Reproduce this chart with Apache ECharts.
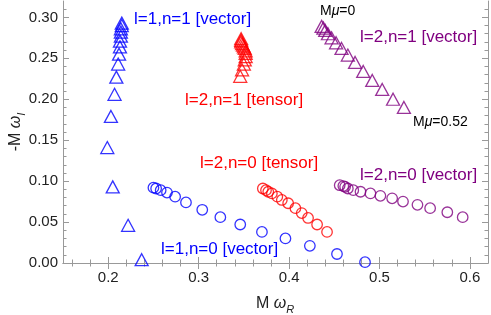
<!DOCTYPE html>
<html><head><meta charset="utf-8">
<script src="https://cdn.jsdelivr.net/npm/echarts@6/dist/echarts.min.js"></script>
<style>html,body{margin:0;padding:0;background:#fff}#c{width:491px;height:315px}</style>
</head><body><div id="c"></div>
<script>
// Axis ticks
const xMajorTicks = [0.2, 0.3, 0.4, 0.5, 0.6];
const xMinorTicks = [0.16, 0.18, 0.22, 0.24, 0.26, 0.28, 0.32, 0.34, 0.36, 0.38, 0.42, 0.44, 0.46, 0.48, 0.52, 0.54, 0.56, 0.58];
const yMajorTicks = [0.00, 0.05, 0.10, 0.15, 0.20, 0.25, 0.30];
const yMinorTicks = [0.01, 0.02, 0.03, 0.04, 0.06, 0.07, 0.08, 0.09, 0.11, 0.12, 0.13, 0.14, 0.16, 0.17, 0.18, 0.19, 0.21, 0.22, 0.23, 0.24, 0.26, 0.27, 0.28, 0.29, 0.31];

// Series values [M omega_R, -M omega_I]
const l1n1Vector = [[0.237,0.004],[0.222,0.046],[0.205,0.093],[0.199,0.141],[0.203,0.179],[0.207,0.206],[0.209,0.227],[0.211,0.243],[0.212,0.255],[0.213,0.264],[0.213,0.271],[0.214,0.277],[0.214,0.282],[0.214,0.286],[0.215,0.290],[0.215,0.293]];
const l1n0Vector = [[0.250,0.092],[0.253,0.091],[0.258,0.089],[0.265,0.086],[0.274,0.081],[0.286,0.074],[0.304,0.065],[0.324,0.056],[0.346,0.047],[0.370,0.038],[0.396,0.030],[0.423,0.021],[0.453,0.011],[0.484,0.001]];
const l2n1Tensor = [[0.346,0.228],[0.348,0.236],[0.350,0.243],[0.351,0.248],[0.352,0.252],[0.352,0.256],[0.352,0.259],[0.351,0.262],[0.350,0.264],[0.349,0.266],[0.348,0.268],[0.347,0.270],[0.347,0.272],[0.347,0.274]];
const l2n0Tensor = [[0.371,0.091],[0.3745,0.089],[0.377,0.087],[0.381,0.085],[0.387,0.081],[0.392,0.077],[0.399,0.073],[0.407,0.067],[0.414,0.061],[0.421,0.055],[0.431,0.047],[0.442,0.038]];
const l2n1Vector = [[0.436,0.289],[0.438,0.287],[0.440,0.284],[0.443,0.280],[0.447,0.275],[0.452,0.269],[0.458,0.262],[0.465,0.254],[0.473,0.245],[0.482,0.234],[0.492,0.223],[0.503,0.212],[0.515,0.200],[0.527,0.190]];
const l2n0Vector = [[0.456,0.095],[0.460,0.094],[0.462,0.093],[0.465,0.091],[0.471,0.089],[0.479,0.087],[0.490,0.085],[0.501,0.082],[0.514,0.079],[0.526,0.075],[0.542,0.071],[0.556,0.067],[0.575,0.062],[0.592,0.056]];

const FONT = "'Liberation Sans', Arial, Helvetica, sans-serif";
const BLUE = '#0000ff', RED = '#ff0000', PURPLE = '#800080';
const FRAME = '#999999';

const grid = {left: 63, right: 3, top: 1, bottom: 52};
function xAx(pos, ticks, len, gridIndex, showLabel, showLine) {
  return {
    type: 'value', gridIndex, position: pos, min: 0.15, max: 0.62,
    axisLine: {show: showLine, lineStyle: {color: FRAME, width: 1}},
    axisTick: {show: true, inside: true, length: len, customValues: ticks, lineStyle: {color: FRAME, width: 1}},
    axisLabel: {show: showLabel, customValues: ticks, formatter: v => v.toFixed(1), color: '#222', fontSize: 15, fontFamily: FONT, margin: 7},
    splitLine: {show: false}
  };
}
function yAx(pos, ticks, len, gridIndex, showLabel, showLine) {
  return {
    type: 'value', gridIndex, position: pos, min: 0, max: 0.32,
    axisLine: {show: showLine, lineStyle: {color: FRAME, width: 1}},
    axisTick: {show: true, inside: true, length: len, customValues: ticks, lineStyle: {color: FRAME, width: 1}},
    axisLabel: {show: showLabel, customValues: ticks, formatter: v => v.toFixed(2), color: '#222', fontSize: 15, fontFamily: FONT, margin: 5},
    splitLine: {show: false}
  };
}
function tri(name, data, color) {
  return {type: 'scatter', name, data, xAxisIndex: 0, yAxisIndex: 0, symbol: 'triangle', symbolSize: [13, 12],
    itemStyle: {color: 'rgba(0,0,0,0)', borderColor: color, borderWidth: 1.3}, silent: true};
}
function circ(name, data, color) {
  return {type: 'scatter', name, data, xAxisIndex: 0, yAxisIndex: 0, symbol: 'circle', symbolSize: 10.5,
    itemStyle: {color: 'rgba(0,0,0,0)', borderColor: color, borderWidth: 1.3}, silent: true};
}
function label(text, x, y, color, size, align) {
  return {type: 'text', x, y, silent: true, style: {text, fill: color, font: size + 'px ' + FONT, textAlign: align || 'left', textVerticalAlign: 'middle'}};
}

const chart = echarts.init(document.getElementById('c'), null, {renderer: 'canvas'});
chart.setOption({
  animation: false,
  backgroundColor: '#fff',
  grid: [Object.assign({}, grid), Object.assign({}, grid)],
  xAxis: [
    xAx('bottom', xMajorTicks, 6, 0, true, true),
    xAx('top', xMajorTicks, 6, 0, false, true),
    xAx('bottom', xMinorTicks, 3.5, 1, false, false),
    xAx('top', xMinorTicks, 3.5, 1, false, false)
  ],
  yAxis: [
    yAx('left', yMajorTicks, 6, 0, true, true),
    yAx('right', yMajorTicks, 6, 0, false, true),
    yAx('left', yMinorTicks, 3.5, 1, false, false),
    yAx('right', yMinorTicks, 3.5, 1, false, false)
  ],
  series: [
    tri('l=1,n=1 [vector]', l1n1Vector, BLUE),
    circ('l=1,n=0 [vector]', l1n0Vector, BLUE),
    tri('l=2,n=1 [tensor]', l2n1Tensor, RED),
    circ('l=2,n=0 [tensor]', l2n0Tensor, RED),
    tri('l=2,n=1 [vector]', l2n1Vector, PURPLE),
    circ('l=2,n=0 [vector]', l2n0Vector, PURPLE)
  ],
  graphic: [
    label('l=1,n=1 [vector]', 134, 19, BLUE, 17),
    label('l=2,n=1 [tensor]', 185, 100, RED, 17),
    label('l=2,n=0 [tensor]', 200, 163, RED, 17),
    label('l=1,n=0 [vector]', 161, 249, BLUE, 17),
    label('l=2,n=1 [vector]', 360, 37, PURPLE, 17),
    label('l=2,n=0 [vector]', 360, 175, PURPLE, 17),
    {type: 'text', x: 320, y: 11, silent: true, style: {text: 'M{i|μ}=0', fill: '#000', font: '14px ' + FONT, textVerticalAlign: 'middle',
      rich: {i: {fontStyle: 'italic', fontSize: 14, fontFamily: FONT, fill: '#000'}}}},
    {type: 'text', x: 413, y: 122, silent: true, style: {text: 'M{i|μ}=0.52', fill: '#000', font: '14px ' + FONT, textVerticalAlign: 'middle',
      rich: {i: {fontStyle: 'italic', fontSize: 14, fontFamily: FONT, fill: '#000'}}}},
    {type: 'text', x: 275, y: 304, silent: true, style: {text: '{n|M }{i|ω}{s|R}', textAlign: 'center', textVerticalAlign: 'middle',
      rich: {n: {fontSize: 16, fontFamily: FONT, fill: '#222', lineHeight: 22, verticalAlign: 'middle'},
             i: {fontSize: 16, fontStyle: 'italic', fontFamily: FONT, fill: '#222', lineHeight: 22, verticalAlign: 'middle'},
             s: {fontSize: 11, fontStyle: 'italic', fontFamily: FONT, fill: '#222', lineHeight: 16, verticalAlign: 'bottom'}}}},
    {type: 'text', x: 16, y: 132, rotation: Math.PI / 2, silent: true, style: {text: '{n|-M }{i|ω}{s|I}', textAlign: 'center', textVerticalAlign: 'middle',
      rich: {n: {fontSize: 16, fontFamily: FONT, fill: '#222', lineHeight: 22, verticalAlign: 'middle'},
             i: {fontSize: 16, fontStyle: 'italic', fontFamily: FONT, fill: '#222', lineHeight: 22, verticalAlign: 'middle'},
             s: {fontSize: 11, fontStyle: 'italic', fontFamily: FONT, fill: '#222', lineHeight: 16, verticalAlign: 'bottom'}}}}
  ]
});
</script>
</body></html>
